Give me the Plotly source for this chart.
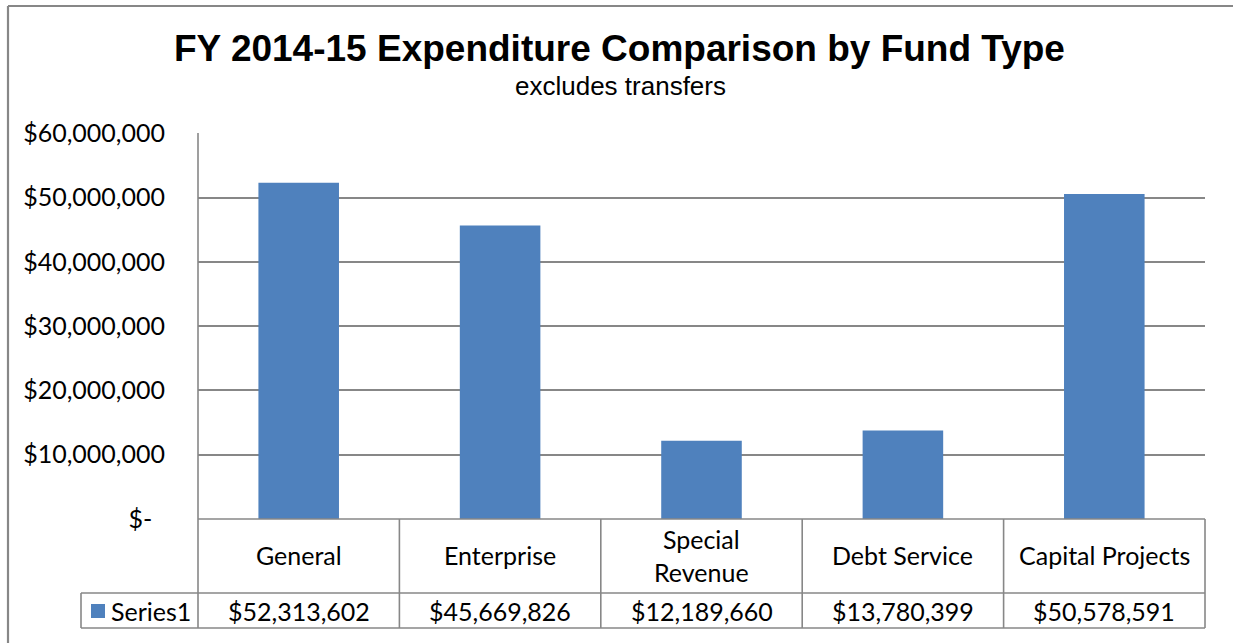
import plotly.graph_objects as go

# Fund types and FY 2014-15 expenditures (transfers excluded)
categories = ["General", "Enterprise", "Special<br>Revenue", "Debt Service", "Capital Projects"]
expenditures = [52313602, 45669826, 12189660, 13780399, 50578591]
value_labels = ["$52,313,602", "$45,669,826", "$12,189,660", "$13,780,399", "$50,578,591"]
series_name = "Series1"
tick_values = [0, 10000000, 20000000, 30000000, 40000000, 50000000, 60000000]
tick_labels = ["$-\u00a0\u00a0", "$10,000,000", "$20,000,000", "$30,000,000",
               "$40,000,000", "$50,000,000", "$60,000,000"]

W, H = 1233, 643
BAR_COLOR = "#4F81BD"
LINE = "#878787"
BODY_FONT = "Lato"
BODY_SIZE = 25

# plot-area box in pixels
px_l, px_r = 198, 1205
py_t, py_b = 133, 519
row1_b, row2_b = 593, 628
legend_l = 81


def fx(px):
    return px / W


def fy(py):
    return 1 - py / H


n = len(categories)
x_idx = list(range(n))

fig = go.Figure(
    go.Bar(
        x=x_idx,
        y=expenditures,
        marker=dict(color=BAR_COLOR, line=dict(width=0)),
        name=series_name,
        showlegend=False,
    )
)

shapes = []
# outer chart frame (top and left edges)
shapes.append(dict(type="line", xref="paper", yref="paper", x0=fx(8), x1=1, y0=fy(6), y1=fy(6),
                   line=dict(color="#878787", width=2.2)))
shapes.append(dict(type="line", xref="paper", yref="paper", x0=fx(8), x1=fx(8), y0=fy(6), y1=0,
                   line=dict(color="#878787", width=2.2)))

# data table grid
col_w = (px_r - px_l) / n
for i in range(n + 1):
    xv = px_l + i * col_w
    shapes.append(dict(type="line", xref="paper", yref="paper", x0=fx(xv), x1=fx(xv),
                       y0=fy(py_b), y1=fy(row2_b), line=dict(color=LINE, width=1.6)))
shapes.append(dict(type="line", xref="paper", yref="paper", x0=fx(px_l), x1=fx(px_l),
                   y0=fy(py_t), y1=fy(py_b), line=dict(color=LINE, width=1.6)))
shapes.append(dict(type="line", xref="paper", yref="paper", x0=fx(legend_l), x1=fx(px_r),
                   y0=fy(row1_b), y1=fy(row1_b), line=dict(color=LINE, width=1.6)))
shapes.append(dict(type="line", xref="paper", yref="paper", x0=fx(legend_l), x1=fx(px_r),
                   y0=fy(row2_b), y1=fy(row2_b), line=dict(color=LINE, width=1.6)))
shapes.append(dict(type="line", xref="paper", yref="paper", x0=fx(legend_l), x1=fx(legend_l),
                   y0=fy(row1_b), y1=fy(row2_b), line=dict(color=LINE, width=1.6)))
shapes.append(dict(type="line", xref="paper", yref="paper", x0=fx(px_l), x1=fx(px_r),
                   y0=fy(py_b), y1=fy(py_b), line=dict(color=LINE, width=1.6)))
# legend key square
shapes.append(dict(type="rect", xref="paper", yref="paper", x0=fx(91), x1=fx(105), y0=fy(604), y1=fy(618),
                   fillcolor=BAR_COLOR, line=dict(width=0)))

annotations = []
for i, (cat, lab) in enumerate(zip(categories, value_labels)):
    annotations.append(dict(x=i, xref="x", y=fy((py_b + row1_b) / 2 - 1), yref="paper", text=cat,
                            showarrow=False, xanchor="center", yanchor="middle",
                            font=dict(family=BODY_FONT, size=BODY_SIZE, color="#000000")))
    annotations.append(dict(x=i, xref="x", y=fy((row1_b + row2_b) / 2), yref="paper", text=lab,
                            showarrow=False, xanchor="center", yanchor="middle",
                            font=dict(family=BODY_FONT, size=BODY_SIZE, color="#000000")))
annotations.append(dict(x=fx(109), xref="paper", y=fy((row1_b + row2_b) / 2), yref="paper", text=series_name,
                        showarrow=False, xanchor="left", yanchor="middle",
                        font=dict(family=BODY_FONT, size=BODY_SIZE, color="#000000")))
# titles
annotations.append(dict(x=fx(619), xref="paper", y=fy(48), yref="paper",
                        text="<b>FY 2014-15 Expenditure Comparison by Fund Type</b>",
                        showarrow=False, xanchor="center", yanchor="middle",
                        font=dict(family="Liberation Sans", size=37, color="#000000")))
annotations.append(dict(x=fx(620), xref="paper", y=fy(86), yref="paper", text="excludes transfers",
                        showarrow=False, xanchor="center", yanchor="middle",
                        font=dict(family="Liberation Sans", size=26, color="#000000")))

fig.update_layout(
    width=W,
    height=H,
    margin=dict(l=0, r=0, t=0, b=0, autoexpand=False),
    paper_bgcolor="#FFFFFF",
    plot_bgcolor="#FFFFFF",
    bargap=0.6,
    shapes=shapes,
    annotations=annotations,
    xaxis=dict(domain=[fx(px_l), fx(px_r)], range=[-0.5, n - 0.5], showticklabels=False,
               showgrid=False, zeroline=False, showline=False, ticks="", fixedrange=True,
               automargin=False),
    yaxis=dict(domain=[fy(py_b), fy(py_t)], range=[0, 60000000 * 1.001], tickvals=tick_values,
               ticktext=tick_labels, showgrid=True, gridcolor=LINE, gridwidth=1.5, zeroline=False,
               showline=False, ticks="", ticklabelstandoff=32, automargin=False,
               tickfont=dict(family=BODY_FONT, size=BODY_SIZE, color="#000000"), fixedrange=True),
)

fig.write_html("out.html")
